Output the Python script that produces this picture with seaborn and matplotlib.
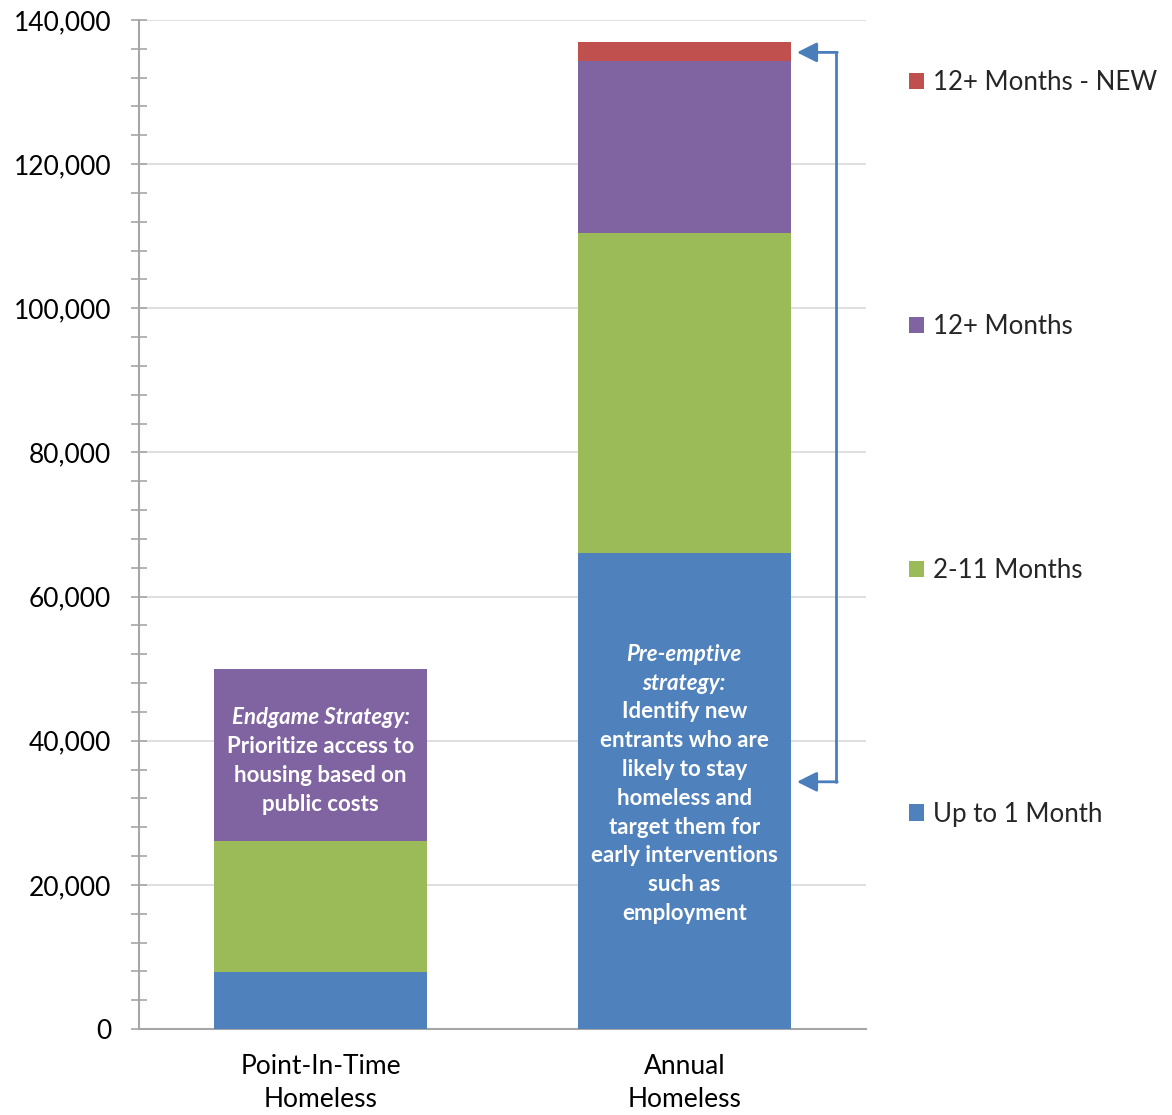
import matplotlib
matplotlib.use("Agg")
import matplotlib.pyplot as plt
from matplotlib.patches import Patch
from matplotlib.ticker import MultipleLocator, FuncFormatter
import numpy as np
import pandas as pd
import seaborn as sns

# Homeless counts by length of stay
categories = ["Point-In-Time\nHomeless", "Annual\nHomeless"]
up_to_1_month = [7900, 66000]
months_2_11 = [18200, 44500]
months_12_plus = [23900, 23800]
months_12_plus_new = [0, 2700]

series_names = ["Up to 1 Month", "2-11 Months", "12+ Months", "12+ Months - NEW"]
series_values = [up_to_1_month, months_2_11, months_12_plus, months_12_plus_new]
colors = ["#4F81BD", "#9BBB59", "#8064A2", "#C0504D"]

sns.set_theme(style="white")
plt.rcParams["font.family"] = ["Lato", "DejaVu Sans"]

fig = plt.figure(figsize=(11.72, 11.15), dpi=100)
ax = fig.add_axes([0.1186, 0.0771, 0.6203, 0.9050])

# Stacked bars: draw cumulative totals from the top segment down
cum = np.cumsum(np.array(series_values), axis=0)
for name, totals, color in reversed(list(zip(series_names, cum, colors))):
    df = pd.DataFrame({"category": categories, "value": totals})
    sns.barplot(data=df, x="category", y="value", color=color, width=0.585,
                saturation=1, edgecolor="none", linewidth=0, ax=ax, zorder=3)

ax.set_xlim(-0.5, 1.5)
ax.set_ylim(0, 140000)
ax.set_xlabel("")
ax.set_ylabel("")

ax.yaxis.set_major_locator(MultipleLocator(20000))
ax.yaxis.set_minor_locator(MultipleLocator(4000))
ax.yaxis.set_major_formatter(FuncFormatter(lambda v, p: f"{int(v):,}"))
ax.grid(axis="y", which="major", color="#d9d9d9", linewidth=1.2, zorder=0)
ax.set_axisbelow(True)

for side in ["top", "right"]:
    ax.spines[side].set_visible(False)
for side in ["left", "bottom"]:
    ax.spines[side].set_color("#a6a6a6")
    ax.spines[side].set_linewidth(1.5)

ax.tick_params(axis="y", which="both", direction="inout", length=12, width=1.2,
               color="#a6a6a6", labelsize=19, labelcolor="black", pad=14, left=True)
ax.tick_params(axis="x", length=0, labelsize=19, labelcolor="black", pad=18)
for lbl in ax.get_xticklabels():
    lbl.set_linespacing(1.42)

# Strategy notes inside the bars, one line at a time
txt = dict(ha="center", va="center", color="white", fontsize=16,
           fontweight="bold", zorder=5)
pit_lines = [("Endgame Strategy:", 43200, "italic"),
             ("Prioritize access to", 39150, "normal"),
             ("housing based on", 35130, "normal"),
             ("public costs", 31100, "normal")]
annual_lines = [("Pre-emptive", 51900, "italic"),
                ("strategy:", 47900, "italic"),
                ("Identify new", 44000, "normal"),
                ("entrants who are", 40000, "normal"),
                ("likely to stay", 35950, "normal"),
                ("homeless and", 31950, "normal"),
                ("target them for", 27900, "normal"),
                ("early interventions", 24050, "normal"),
                ("such as", 20000, "normal"),
                ("employment", 16000, "normal")]
for s, yy, st in pit_lines:
    ax.text(0, yy, s, style=st, **txt)
for s, yy, st in annual_lines:
    ax.text(1, yy, s, style=st, **txt)

# Bracket linking the new chronic entrants to the short-stay group
arrow_color = "#4A7EBB"
xr, xt = 1.418, 1.31
y_top, y_bot = 135500, 34300
ax.plot([xr, xr], [y_top, y_bot], color=arrow_color, lw=2, zorder=4, clip_on=False)
for yy in (y_top, y_bot):
    ax.annotate("", xy=(xt, yy), xytext=(xr + 0.003, yy),
                arrowprops=dict(arrowstyle="-|>,head_length=1.0,head_width=0.5",
                                color=arrow_color, lw=2, shrinkA=0, shrinkB=0),
                zorder=4)

handles = [Patch(facecolor=c, edgecolor="none") for c in colors][::-1]
labels = series_names[::-1]
fig.legend(handles, labels, loc="center left", bbox_to_anchor=(0.7755, 0.5978),
           frameon=False, fontsize=18.6, handlelength=0.6, handleheight=0.6,
           handletextpad=0.35, labelspacing=8.47, borderpad=0, borderaxespad=0)

fig.savefig("out.png", dpi=100)
